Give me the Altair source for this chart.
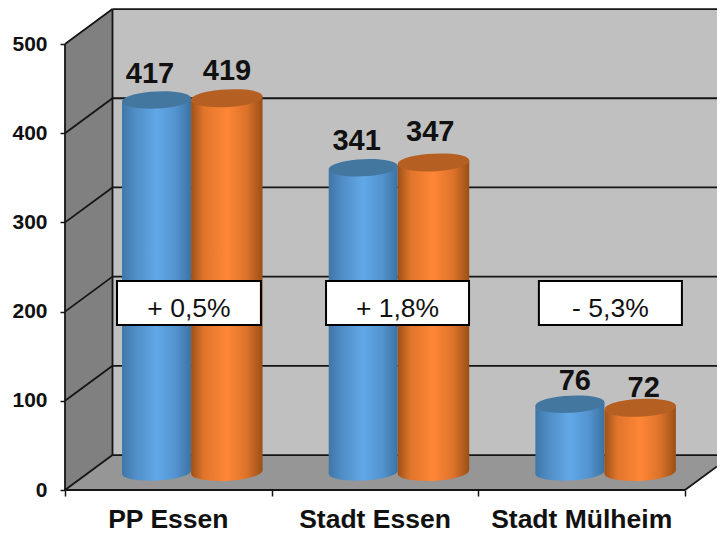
import altair as alt
import pandas as pd

categories = ["PP Essen", "Stadt Essen", "Stadt Mülheim"]
series_a = [417, 341, 76]
series_b = [419, 347, 72]
changes = ["+ 0,5%", "+ 1,8%", "- 5,3%"]
ticks = [0, 100, 200, 300, 400, 500]

FONT = "Liberation Sans"
W, H = 652, 482
PXU = 0.892          # px per value unit
PXC = 206.67         # px per category
XMAX = W / PXC
YMAX = H / PXU
DX = 47.5 / PXC      # depth on x
DY = 39.2            # depth on y
MID = 20.2           # cylinder base centre, in value units
TILT = 2.2

xs = alt.Scale(domain=[0, XMAX], nice=False, zero=False)
ys = alt.Scale(domain=[0, YMAX], nice=False, zero=False)
x_axis = alt.Axis(values=[0, 1, 2, 3], labels=False, title=None, grid=False, domain=False,
                  tickSize=6, tickColor="#151515", tickWidth=1.5)
y_axis = alt.Axis(values=ticks, title=None, grid=False, domain=False, tickSize=5,
                  tickColor="#151515", tickWidth=1.5, labelPadding=13, labelFont=FONT,
                  labelFontSize=21, labelFontWeight="bold", labelColor="#111111")
X = alt.X("x:Q", scale=xs, axis=x_axis)
Y = alt.Y("y:Q", scale=ys, axis=y_axis)
X2 = alt.X2("x2:Q")
Y2 = alt.Y2("y2:Q")


def base(rows):
    return alt.Chart(pd.DataFrame(rows))


def grad(stops):
    return alt.Gradient(
        gradient="linear", x1=0, x2=1, y1=0, y2=0,
        stops=[alt.GradientStop(offset=o, color=c) for o, c in stops],
    )


BLUE = grad([(0, "#3f76a8"), (0.18, "#4f8cc4"), (0.5, "#62a8e8"), (0.78, "#5293cf"), (1, "#3d72a2")])
ORANGE = grad([(0, "#9e5118"), (0.18, "#e0752c"), (0.5, "#ff8636"), (0.78, "#dc722a"), (1, "#9a4f17")])
BLUE_TOP = "#44779f"
ORANGE_TOP = "#b65f22"
ELLIPSE = "M-0.998,0.052 A1,0.24,-3,1,1,0.998,-0.052 A1,0.24,-3,1,1,-0.998,0.052 Z"

# walls -----------------------------------------------------------------
left_wall = base([
    {"x": 0, "y": 0, "y2": 500},
    {"x": DX, "y": DY, "y2": 500 + DY},
]).mark_area(color="#808080", orient="vertical").encode(X, Y, Y2)

floor = base([
    {"x": 0, "y": 0, "y2": 0},
    {"x": DX, "y": 0, "y2": DY},
    {"x": 3, "y": 0, "y2": DY},
    {"x": XMAX, "y": (XMAX - 3) / DX * DY, "y2": DY},
]).mark_area(color="#969696", orient="vertical").encode(X, Y, Y2)

back_wall = base([
    {"x": DX, "x2": XMAX, "y": DY, "y2": 500 + DY},
]).mark_rect(color="#c0c0c0").encode(X, X2, Y, Y2)

# outline lines ---------------------------------------------------------
rows = []
for t in ticks:
    rows += [{"id": f"d{t}", "x": 0, "y": t}, {"id": f"d{t}", "x": DX, "y": t + DY}]
    if t > 0:
        rows += [{"id": f"h{t}", "x": DX, "y": t + DY}, {"id": f"h{t}", "x": XMAX, "y": t + DY}]
rows += [{"id": "front", "x": 0, "y": 0}, {"id": "front", "x": 3, "y": 0}]
rows += [{"id": "side", "x": 3, "y": 0}, {"id": "side", "x": XMAX, "y": (XMAX - 3) / DX * DY}]
rows += [{"id": "axis", "x": 0, "y": 0}, {"id": "axis", "x": 0, "y": 500}]
rows += [{"id": "corner", "x": DX, "y": DY}, {"id": "corner", "x": DX, "y": 500 + DY}]
rows += [{"id": "back0", "x": DX, "y": DY}, {"id": "back0", "x": XMAX, "y": DY}]
lines = base(rows).mark_line(color="#151515", strokeWidth=1.8).encode(X, Y, detail="id:N")

# cylinders -------------------------------------------------------------
offsets = {"a": (0.276, 0.610), "b": (0.610, 0.956)}


def cylinders(values, key, fill, top):
    o0, o1 = offsets[key]
    body, centres = [], []
    for i, v in enumerate(values):
        body += [
            {"id": i, "x": i + o0, "y": v + MID - TILT, "y2": MID - TILT},
            {"id": i, "x": i + o1, "y": v + MID + TILT, "y2": MID + TILT},
        ]
        centres.append({"x": i + (o0 + o1) / 2, "top": v + MID, "y": MID})
    size = ((o1 - o0) * PXC) ** 2
    c = base(centres)
    return [
        c.mark_point(shape=ELLIPSE, filled=True, fill=fill, size=size, strokeWidth=0, opacity=1).encode(X, Y),
        base(body).mark_area(fill=fill, orient="vertical").encode(X, Y, Y2, detail="id:N"),
        c.mark_point(shape=ELLIPSE, filled=True, fill=top, size=size, strokeWidth=0, opacity=1).encode(
            X, alt.Y("top:Q", scale=ys, axis=y_axis)),
    ]


# change boxes ----------------------------------------------------------
box_x = [(0.2516, 0.948), (1.263, 1.955), (2.293, 2.985)]
boxes = base([
    {"x": a, "x2": b, "y": 185, "y2": 234.3} for a, b in box_x
]).mark_rect(fill="white", stroke="#000000", strokeWidth=2).encode(X, X2, Y, Y2)
box_text = base([
    {"x": (a + b) / 2, "y": 194, "t": t} for (a, b), t in zip(box_x, changes)
]).mark_text(font=FONT, fontSize=26.5, color="#111111", baseline="alphabetic", align="center").encode(X, Y, text="t:N")

# value labels ----------------------------------------------------------
lab_x_a = [0.411, 1.411, 2.467]
lab_x_b = [0.784, 1.767, 2.800]
nudge_a = [2.1, 3, -1.1]
nudge_b = [3.4, 7.1, -4.9]
lab_rows = []
for vals, xs_, nudge in ((series_a, lab_x_a, nudge_a), (series_b, lab_x_b, nudge_b)):
    for v, x, n in zip(vals, xs_, nudge):
        lab_rows.append({"x": x, "y": v + MID + 17 + n, "t": str(v)})
labels = base(lab_rows).mark_text(
    font=FONT, fontSize=29, fontWeight="bold", color="#111111", baseline="alphabetic", align="center"
).encode(X, Y, text="t:N")

# category labels -------------------------------------------------------
cat_labels = base([
    {"x": i + 0.5, "t": c} for i, c in enumerate(categories)
]).mark_text(
    font=FONT, fontSize=26.5, fontWeight="bold", color="#111111", baseline="alphabetic", align="center"
).encode(X, y=alt.value(H + 38), text="t:N")

layers = [left_wall, back_wall, floor, lines]
layers += cylinders(series_a, "a", BLUE, BLUE_TOP)
layers += cylinders(series_b, "b", ORANGE, ORANGE_TOP)
layers += [boxes, box_text, labels, cat_labels]

chart = alt.layer(*layers).properties(
    width=W, height=H,
    padding={"left": 57, "top": 0, "right": 0, "bottom": 46},
    autosize=alt.AutoSizeParams(type="none"),
).configure_view(stroke=None)

chart.save("out.html", embed_options={"renderer": "svg", "actions": False})
